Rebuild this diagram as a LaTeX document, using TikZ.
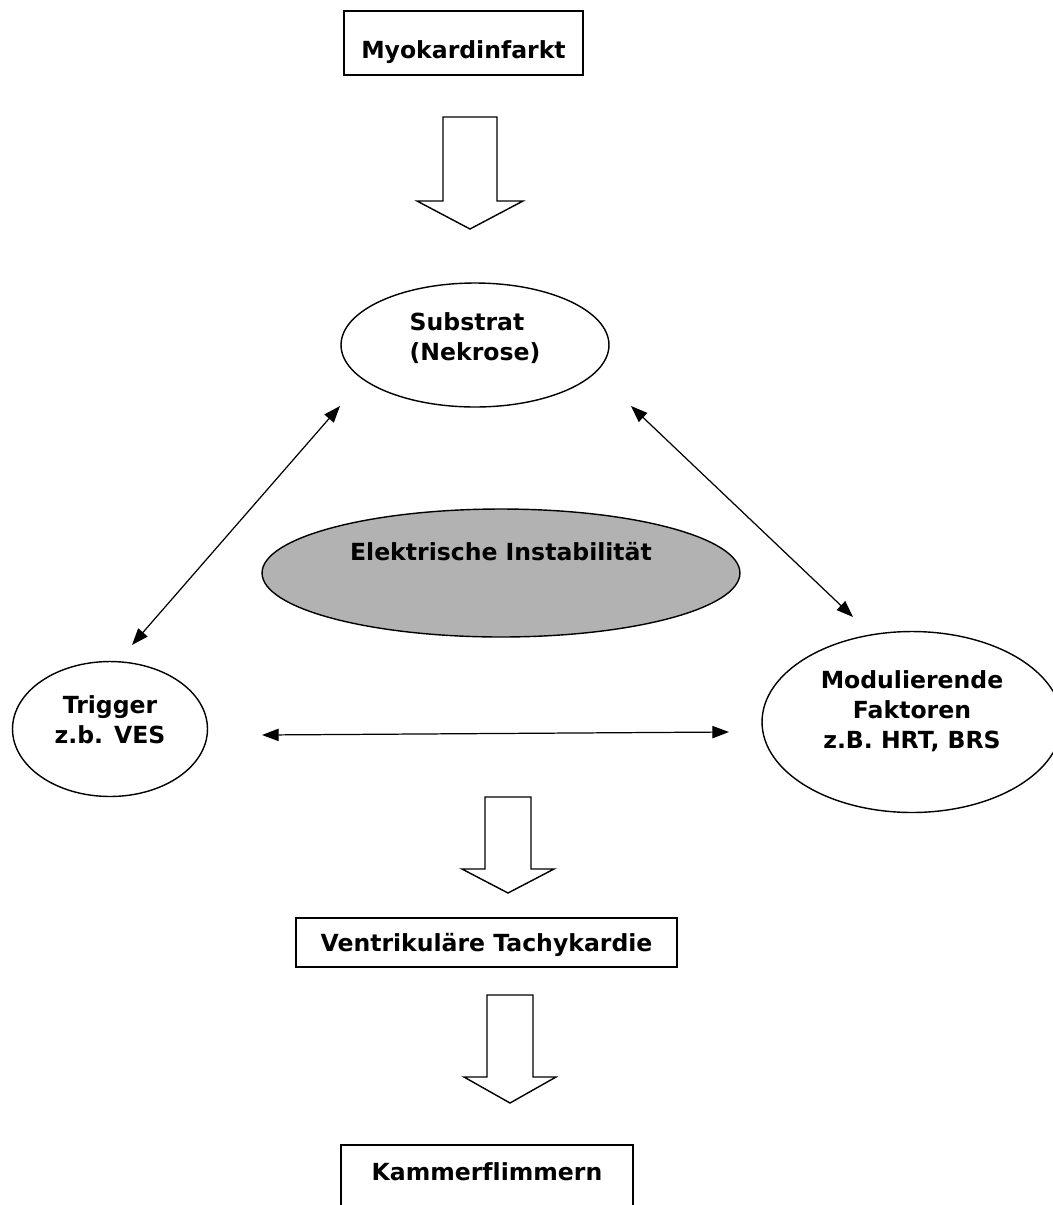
\documentclass[tikz,border=0pt]{standalone}
\usepackage{fontspec}
\setmainfont[Ligatures=NoCommon]{DejaVu Sans}
\usetikzlibrary{shapes.geometric,arrows.meta,calc}

\definecolor{instgrey}{RGB}{178,178,178}

% hollow block arrow: x, top, shoulder, tip, half shaft, half head
\newcommand{\hollowarrow}[6]{%
  \draw[line width=0.8pt, fill=white] ({#1-#5},#2) -- ({#1+#5},#2) -- ({#1+#5},#3) -- ({#1+#6},#3) -- (#1,#4) -- ({#1-#6},#3) -- ({#1-#5},#3) -- cycle;}

\begin{document}
\begin{tikzpicture}[x=0.02cm, y=-0.02cm,
        every node/.append style={font=\bfseries\fontsize{13.4}{17}\selectfont},
        stage/.style={rectangle, draw=black, line width=0.8pt, fill=white, inner sep=0pt},
        factor/.style={ellipse, draw=black, line width=0.8pt, fill=white, inner sep=0pt},
        link/.style={{Triangle[length=9.5pt,width=7pt]}-{Triangle[length=9.5pt,width=7pt]}, line width=0.7pt},
    ]
    \useasboundingbox (0,0) rectangle (1053,1205);
    \clip (0,0) rectangle (1053,1205);

    \node[stage, minimum width=4.78cm, minimum height=1.28cm, label={[yshift=-0.18cm]center:Myokardinfarkt}] (infarkt) at (463.5,43) {};
    \node[factor, minimum width=5.36cm, minimum height=2.48cm, label={[yshift=0.14cm, align=left]center:{Substrat\\(Nekrose)}}] (substrat) at (475,345) {};
    \node[factor, fill=instgrey, minimum width=9.56cm, minimum height=2.56cm, label={[yshift=0.42cm]center:Elektrische Instabilität}] (instab) at (501,573) {};
    \node[factor, minimum width=3.9cm, minimum height=2.7cm, label={[yshift=0.18cm, align=center]center:{Trigger\\z.b. VES}}] (trigger) at (110,729) {};
    \node[factor, minimum width=6cm, minimum height=3.62cm, label={[yshift=0.22cm, align=center]center:{Modulierende\\Faktoren\\z.B. HRT, BRS}}] (modul) at (912,722) {};
    \node[stage, minimum width=7.62cm, minimum height=0.98cm, label={[yshift=-0.05cm]center:Ventrikuläre Tachykardie}] (vt) at (486.5,942.5) {};
    \node[stage, minimum width=5.84cm, minimum height=1.28cm, label={[yshift=0.1cm]center:Kammerflimmern}] (vf) at (487,1177) {};

    \hollowarrow{470}{117}{201}{229}{27}{53}
    \hollowarrow{508}{797}{869}{893}{23}{46}
    \hollowarrow{510}{995}{1077}{1103}{23}{46}

    \draw[link] ($(substrat)+(-135,61)$) -- ($(trigger)+(22,-84)$);
    \draw[link] ($(substrat)+(156,61)$) -- ($(modul)+(-59,-105)$);
    \draw[link] ($(trigger)+(152,6)$) -- ($(modul)+(-183,10)$);
\end{tikzpicture}
\end{document}
